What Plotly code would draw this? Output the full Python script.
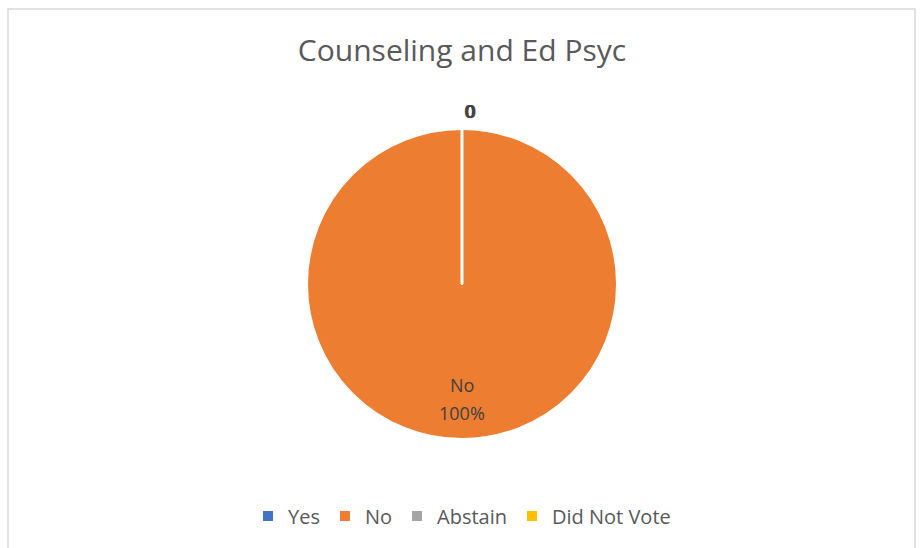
import plotly.graph_objects as go

# Vote breakdown for the department
categories = ["Yes", "No", "Abstain", "Did Not Vote"]
votes = [0, 100, 0, 0]
colors = ["#4472C4", "#ED7D31", "#A5A5A5", "#FFC000"]

W, H = 924, 548
FONT = "Open Sans, Liberation Sans, sans-serif"

# pie geometry in pixels
cx, cy, r = 462, 284, 155
to_px = lambda y: (H - y) / H

total = sum(votes)
fig = go.Figure()
fig.add_trace(go.Pie(
    labels=categories,
    values=votes,
    sort=False,
    direction="clockwise",
    rotation=0,
    marker=dict(colors=colors, line=dict(color="white", width=2)),
    textinfo="none",
    hoverinfo="label+value+percent",
    domain=dict(x=[(cx - r) / W, (cx + r) / W], y=[to_px(cy + r), to_px(cy - r)]),
    showlegend=True,
))

annotations = []
label_font = dict(family=FONT, size=18, color="#404040")
# category + percent label for non-zero slices
for cat, v in zip(categories, votes):
    if v > 0:
        annotations.append(dict(
            x=cx / W, y=to_px(385), xref="paper", yref="paper",
            xanchor="center", yanchor="middle",
            text=cat, showarrow=False, font=label_font,
        ))
        annotations.append(dict(
            x=cx / W, y=to_px(413), xref="paper", yref="paper",
            xanchor="center", yanchor="middle",
            text=f"{round(100 * v / total)}%", showarrow=False, font=label_font,
        ))
# zero-value labels stack at the top of the pie
offsets = [0, 1, 2]
zeros = [v for v in votes if v == 0]
for dx, v in zip(offsets, zeros):
    annotations.append(dict(
        x=(469 + dx) / W, y=to_px(111), xref="paper", yref="paper",
        xanchor="center", yanchor="middle",
        text=str(v), showarrow=False, font=label_font,
    ))

fig.update_layout(
    width=W, height=H,
    margin=dict(l=0, r=0, t=0, b=0),
    paper_bgcolor="white",
    plot_bgcolor="white",
    title=dict(
        text="Counseling and Ed Psyc",
        x=0.5, xanchor="center", y=to_px(50), yanchor="middle",
        font=dict(family=FONT, size=30, color="#595959"),
    ),
    legend=dict(
        orientation="h", x=0.5, xanchor="center", y=to_px(516), yanchor="middle",
        font=dict(family=FONT, size=20, color="#595959"),
        itemwidth=30, traceorder="normal",
    ),
    annotations=annotations,
    shapes=[
        # chart area border
        dict(type="rect", xref="paper", yref="paper",
             x0=8 / W, x1=915 / W, y0=-0.02, y1=to_px(9),
             line=dict(color="#D9D9D9", width=1.5)),
        # slice boundary from the centre to the top
        dict(type="line", xref="paper", yref="paper",
             x0=cx / W, x1=cx / W, y0=to_px(cy), y1=to_px(cy - r),
             line=dict(color="white", width=3)),
    ],
)

fig.write_html("out.html")
